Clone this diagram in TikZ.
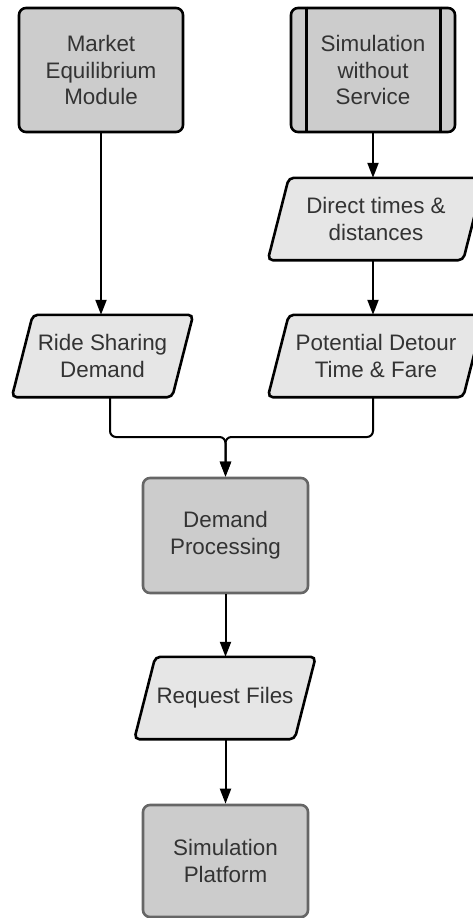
\documentclass[tikz,border=0pt]{standalone}
\usepackage{fontspec}
\setmainfont{Liberation Sans}
\usetikzlibrary{arrows.meta,backgrounds,calc}

\definecolor{boxgray}{HTML}{CCCCCC}
\definecolor{iofill}{HTML}{E6E6E6}
\definecolor{textgray}{HTML}{333333}
\definecolor{edgegray}{HTML}{666666}

% parallelogram (data) outline around a text node: #1 node name, #2 slant offset
\newcommand\datashape[2]{%
  \draw[line width=2.6pt, fill=iofill, rounded corners=5pt]
    ($(#1.south west)+(-#2,0)$) -- ($(#1.north west)+(#2,0)$) --
    ($(#1.north east)+(#2,0)$) -- ($(#1.south east)+(-#2,0)$) -- cycle;}

\begin{document}
\begin{tikzpicture}[x=1pt, y=-1pt,
  txt/.style={text=textgray, font=\fontsize{22.4}{26.7}\selectfont, align=center, inner sep=0pt},
  procbox/.style={txt, draw=black, line width=2.6pt, fill=boxgray, rounded corners=7pt,
    minimum width=164pt, minimum height=124pt},
  lowbox/.style={txt, draw=edgegray, line width=2.6pt, fill=boxgray, rounded corners=7pt,
    minimum width=165pt, minimum height=115pt},
  dataio/.style={txt, minimum width=#1, minimum height=82pt},
  flow/.style={line width=2pt, -{Triangle[width=11pt,length=15pt]}}
]
\useasboundingbox (0,0) rectangle (472,918);

% process boxes
\node[procbox] (mem) at (101,70) {Market\\Equilibrium\\Module};
\node[procbox] (sws) at (373,70) {Simulation\\without\\Service};
\draw[line width=2.6pt] ([xshift=17pt]sws.north west) -- ([xshift=17pt]sws.south west);
\draw[line width=2.6pt] ([xshift=-16pt]sws.north east) -- ([xshift=-16pt]sws.south east);

% data nodes (text only; outlines drawn behind)
\node[dataio=195pt] (dt)  at (376,219) {Direct times \&\\distances};
\node[dataio=160pt] (rsd) at (102.5,356) {Ride Sharing\\Demand};
\node[dataio=195pt] (pd)  at (376,356) {Potential Detour\\Time \& Fare};
\node[dataio=160pt] (rf)  at (225,698) {Request Files};

\begin{scope}[on background layer]
  \datashape{dt}{10.5}
  \datashape{rsd}{10.5}
  \datashape{pd}{10.5}
  \datashape{rf}{10.5}
\end{scope}

% lower process boxes
\node[lowbox] (dp) at (225.5,535.5) {Demand\\Processing};
\node[lowbox, minimum height=112pt] (sp) at (225.5,861) {Simulation\\Platform};

% connectors
\coordinate (join) at (225.5,437);
\draw[flow] (mem.south) -- (mem.south |- rsd.north);
\draw[flow] (sws.south) -- (sws.south |- dt.north);
\draw[flow] (sws.south |- dt.south) -- (sws.south |- pd.north);
\draw[flow, rounded corners=6pt] ([xshift=7.5pt]rsd.south) |- (join) -- (dp.north);
\draw[flow, rounded corners=6pt] (sws.south |- pd.south) |- (join) -- (dp.north);
\draw[flow] (dp.south) -- (dp.south |- rf.north);
\draw[flow] (dp.south |- rf.south) -- (sp.north);
\end{tikzpicture}
\end{document}
